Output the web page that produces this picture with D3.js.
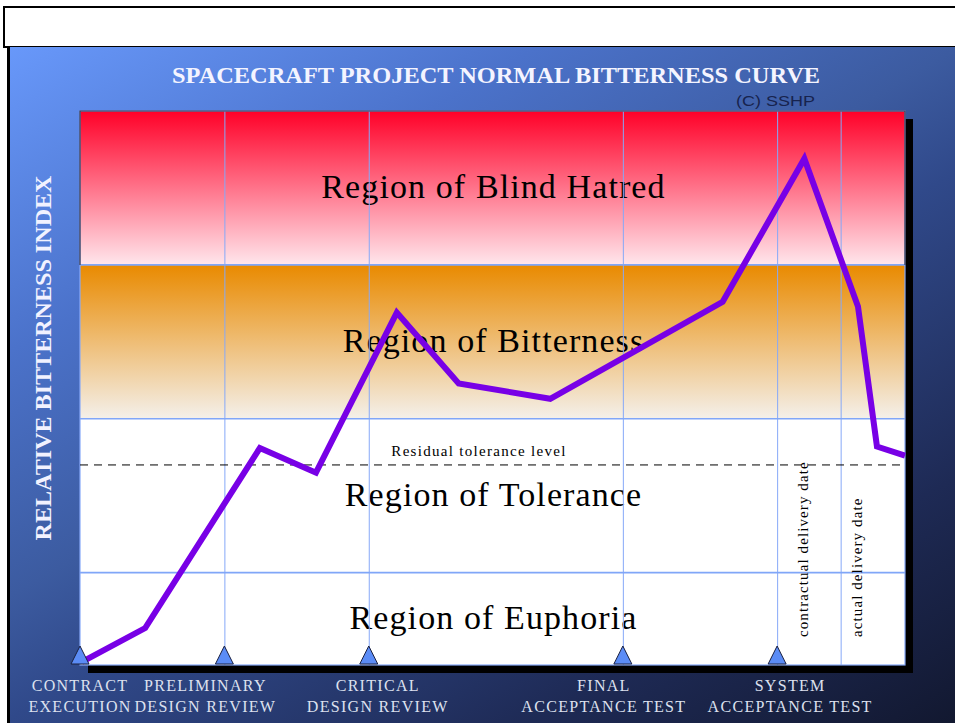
<!DOCTYPE html>
<html>
<head>
<meta charset="utf-8">
<title>Spacecraft Project Normal Bitterness Curve</title>
<script src="https://d3js.org/d3.v7.min.js"></script>
<style>
	body { margin: 0; background: #fff; }
	svg { display: block; }
	.serif { font-family: "Liberation Serif", "Times New Roman", serif; }
	.region-label { font-size: 34px; fill: #000; text-anchor: middle; letter-spacing: 1.1px; }
	.milestone-label { font-size: 16px; fill: #dde1ef; text-anchor: middle; letter-spacing: 1.3px; }
	.note { font-size: 15px; fill: #000; letter-spacing: 1.2px; }
	.grid line { stroke: #86a8f8; stroke-width: 1; }
	.grid path { display: none; }
</style>
</head>
<body>
<div id="chart"></div>
<script>
	// schedule position (% of planned schedule) vs relative bitterness
	var schedule   = [0.24, 7.9, 21.8, 28.6, 38.4, 45.9, 57.0, 77.9, 87.8, 94.3, 96.6, 100];
	var bitterness = [0.02, 0.24, 1.41, 1.25, 2.29, 1.83, 1.73, 2.36, 3.29, 2.33, 1.42, 1.36];

	var regionNames  = ["Region of Euphoria", "Region of Tolerance", "Region of Bitterness", "Region of Blind Hatred"];
	var regionBounds = [0, 0.6, 1.6, 2.6, 3.6];

	var milestoneAt    = [0, 17.5, 35.0, 65.8, 84.5];
	var milestoneNames = [["CONTRACT", "EXECUTION"], ["PRELIMINARY", "DESIGN REVIEW"], ["CRITICAL", "DESIGN REVIEW"],
	                      ["FINAL", "ACCEPTANCE TEST"], ["SYSTEM", "ACCEPTANCE TEST"]];
	var gridAt = [17.5, 35.0, 65.8, 84.5, 92.2];

	var deliveryAt    = [84.5, 92.2];
	var deliveryNames = ["contractual delivery date", "actual delivery date"];

	var residualLevel = 1.3;

	var W = 955, H = 723;
	var plot = {left: 80, right: 905, top: 111, bottom: 665};

	var x = d3.scaleLinear().domain([0, 100]).range([plot.left, plot.right]);
	var y = d3.scaleLinear().domain([0, 3.6]).range([plot.bottom, plot.top]);

	var svg = d3.select('#chart').append('svg').attr('width', W).attr('height', H);
	var defs = svg.append('defs');

	// background panel gradient
	var bg = defs.append('linearGradient').attr('id', 'bg')
		.attr('gradientUnits', 'userSpaceOnUse')
		.attr('x1', 9).attr('y1', 47).attr('x2', 538).attr('y2', 963);
	[[0, '#6898fa'], [0.25, '#4b72ca'], [0.45, '#3c5ba0'], [0.55, '#30498a'], [0.8, '#1e2a55'], [1, '#121830']]
		.forEach(s => bg.append('stop').attr('offset', s[0]).attr('stop-color', s[1]));

	var hate = defs.append('linearGradient').attr('id', 'hate').attr('x1', 0).attr('y1', 0).attr('x2', 0).attr('y2', 1);
	hate.append('stop').attr('offset', 0).attr('stop-color', '#ff0028');
	hate.append('stop').attr('offset', 1).attr('stop-color', '#ffe6ec');
	var bitter = defs.append('linearGradient').attr('id', 'bitter').attr('x1', 0).attr('y1', 0).attr('x2', 0).attr('y2', 1);
	bitter.append('stop').attr('offset', 0).attr('stop-color', '#e98a00');
	bitter.append('stop').attr('offset', 1).attr('stop-color', '#f4f0ea');
	var regionFill = ['#fff', '#fff', 'url(#bitter)', 'url(#hate)'];

	// top white box + blue panel
	svg.append('rect').attr('x', 4).attr('y', 7).attr('width', 1000).attr('height', 40)
		.attr('fill', '#fff').attr('stroke', '#000').attr('stroke-width', 2);
	svg.append('rect').attr('x', 9).attr('y', 47).attr('width', W).attr('height', H).attr('fill', 'url(#bg)');
	svg.append('rect').attr('x', 7).attr('y', 46).attr('width', 3).attr('height', H).attr('fill', '#000');

	// title
	svg.append('text').attr('class', 'serif')
		.attr('x', 496).attr('y', 83)
		.attr('text-anchor', 'middle').attr('font-size', 23).attr('font-weight', 'bold')
		.attr('fill', '#f4f4ff')
		.attr('textLength', 648).attr('lengthAdjust', 'spacingAndGlyphs')
		.text('SPACECRAFT PROJECT NORMAL BITTERNESS CURVE');
	svg.append('text')
		.attr('x', 736).attr('y', 106)
		.attr('font-family', '"Liberation Sans", Arial, sans-serif').attr('font-size', 15)
		.attr('fill', '#17234e')
		.attr('textLength', 79).attr('lengthAdjust', 'spacingAndGlyphs')
		.text('(C) SSHP');

	// y axis title
	svg.append('text').attr('class', 'serif')
		.attr('transform', 'translate(51,358) rotate(-90)')
		.attr('text-anchor', 'middle').attr('font-size', 24).attr('font-weight', 'bold')
		.attr('fill', '#f2f2ff')
		.attr('textLength', 365).attr('lengthAdjust', 'spacingAndGlyphs')
		.text('RELATIVE BITTERNESS INDEX');

	// shadow
	svg.append('rect')
		.attr('x', plot.left + 8).attr('y', plot.top + 8)
		.attr('width', plot.right - plot.left).attr('height', plot.bottom - plot.top)
		.attr('fill', '#000');

	var g = svg.append('g');

	// regions
	var regions = regionNames.map((n, i) => ({name: n, lo: regionBounds[i], hi: regionBounds[i + 1], fill: regionFill[i]}));
	g.selectAll('.region').data(regions).enter().append('rect')
		.attr('class', 'region')
		.attr('x', plot.left).attr('width', plot.right - plot.left)
		.attr('y', d => y(d.hi)).attr('height', d => y(d.lo) - y(d.hi))
		.attr('fill', d => d.fill);

	g.selectAll('.region-label').data(regions).enter().append('text')
		.attr('class', 'region-label serif')
		.attr('x', (plot.left + plot.right) / 2 + 1)
		.attr('y', d => (y(d.lo) + y(d.hi)) / 2 + 10)
		.text(d => d.name);

	// vertical grid lines
	g.append('g').attr('class', 'grid')
		.attr('transform', 'translate(0,' + plot.bottom + ')')
		.call(d3.axisBottom(x).tickValues(gridAt).tickSize(-(plot.bottom - plot.top)).tickFormat(''));

	// region boundaries
	g.selectAll('.bound').data(regionBounds.slice(1, -1)).enter().append('line')
		.attr('x1', plot.left).attr('x2', plot.right)
		.attr('y1', d => y(d)).attr('y2', d => y(d))
		.attr('stroke', '#80a6f8').attr('stroke-width', 1.6);

	// plot frame
	g.append('rect')
		.attr('x', plot.left).attr('y', plot.top)
		.attr('width', plot.right - plot.left).attr('height', plot.bottom - plot.top)
		.attr('fill', 'none').attr('stroke', '#86a8f8').attr('stroke-width', 1.2);
	g.append('path')
		.attr('d', 'M' + plot.left + ',' + y(regionBounds[3]) + 'V' + plot.top + 'H' + plot.right + 'V' + y(regionBounds[3]))
		.attr('fill', 'none').attr('stroke', '#3a3a4a').attr('stroke-width', 1.2);

	// residual tolerance
	g.append('line')
		.attr('x1', plot.left).attr('x2', plot.right)
		.attr('y1', y(residualLevel)).attr('y2', y(residualLevel))
		.attr('stroke', '#000').attr('stroke-width', 1).attr('stroke-dasharray', '8,6');
	g.append('text').attr('class', 'note serif')
		.attr('x', 479).attr('y', y(residualLevel) - 9)
		.attr('text-anchor', 'middle')
		.style('letter-spacing', '1.3px')
		.text('Residual tolerance level');

	// delivery dates
	g.selectAll('.delivery').data(deliveryAt).enter().append('text')
		.attr('class', 'note serif delivery')
		.attr('transform', (d, i) => 'translate(' + (x(d) + (i ? 21 : 31)) + ',637) rotate(-90)')
		.attr('text-anchor', 'start')
		.style('letter-spacing', '1.1px')
		.text((d, i) => deliveryNames[i]);

	// bitterness curve
	var points = schedule.map((s, i) => [s, bitterness[i]]);
	g.append('path')
		.datum(points)
		.attr('d', d3.line().x(d => x(d[0])).y(d => y(d[1])))
		.attr('fill', 'none').attr('stroke', '#7800e6').attr('stroke-width', 6)
		.attr('stroke-linejoin', 'miter');

	// milestone triangles
	g.selectAll('.tri').data(milestoneAt).enter().append('path')
		.attr('class', 'tri')
		.attr('transform', d => 'translate(' + x(d) + ',' + (plot.bottom - 1) + ')')
		.attr('d', 'M-9,0L0,-18L9,0Z')
		.attr('fill', '#5b8cf6').attr('stroke', '#1a2040').attr('stroke-width', 1);

	// milestone labels
	var labelDx = [0, -19, 9, -19, 13];
	var ml = svg.selectAll('.milestone-label').data(milestoneAt).enter().append('text')
		.attr('class', 'milestone-label serif')
		.attr('transform', (d, i) => 'translate(' + (x(d) + labelDx[i]) + ',691)');
	ml.append('tspan').attr('x', 0).attr('y', 0).text((d, i) => milestoneNames[i][0]);
	ml.append('tspan').attr('x', 0).attr('y', 21).text((d, i) => milestoneNames[i][1]);
</script>
</body>
</html>
